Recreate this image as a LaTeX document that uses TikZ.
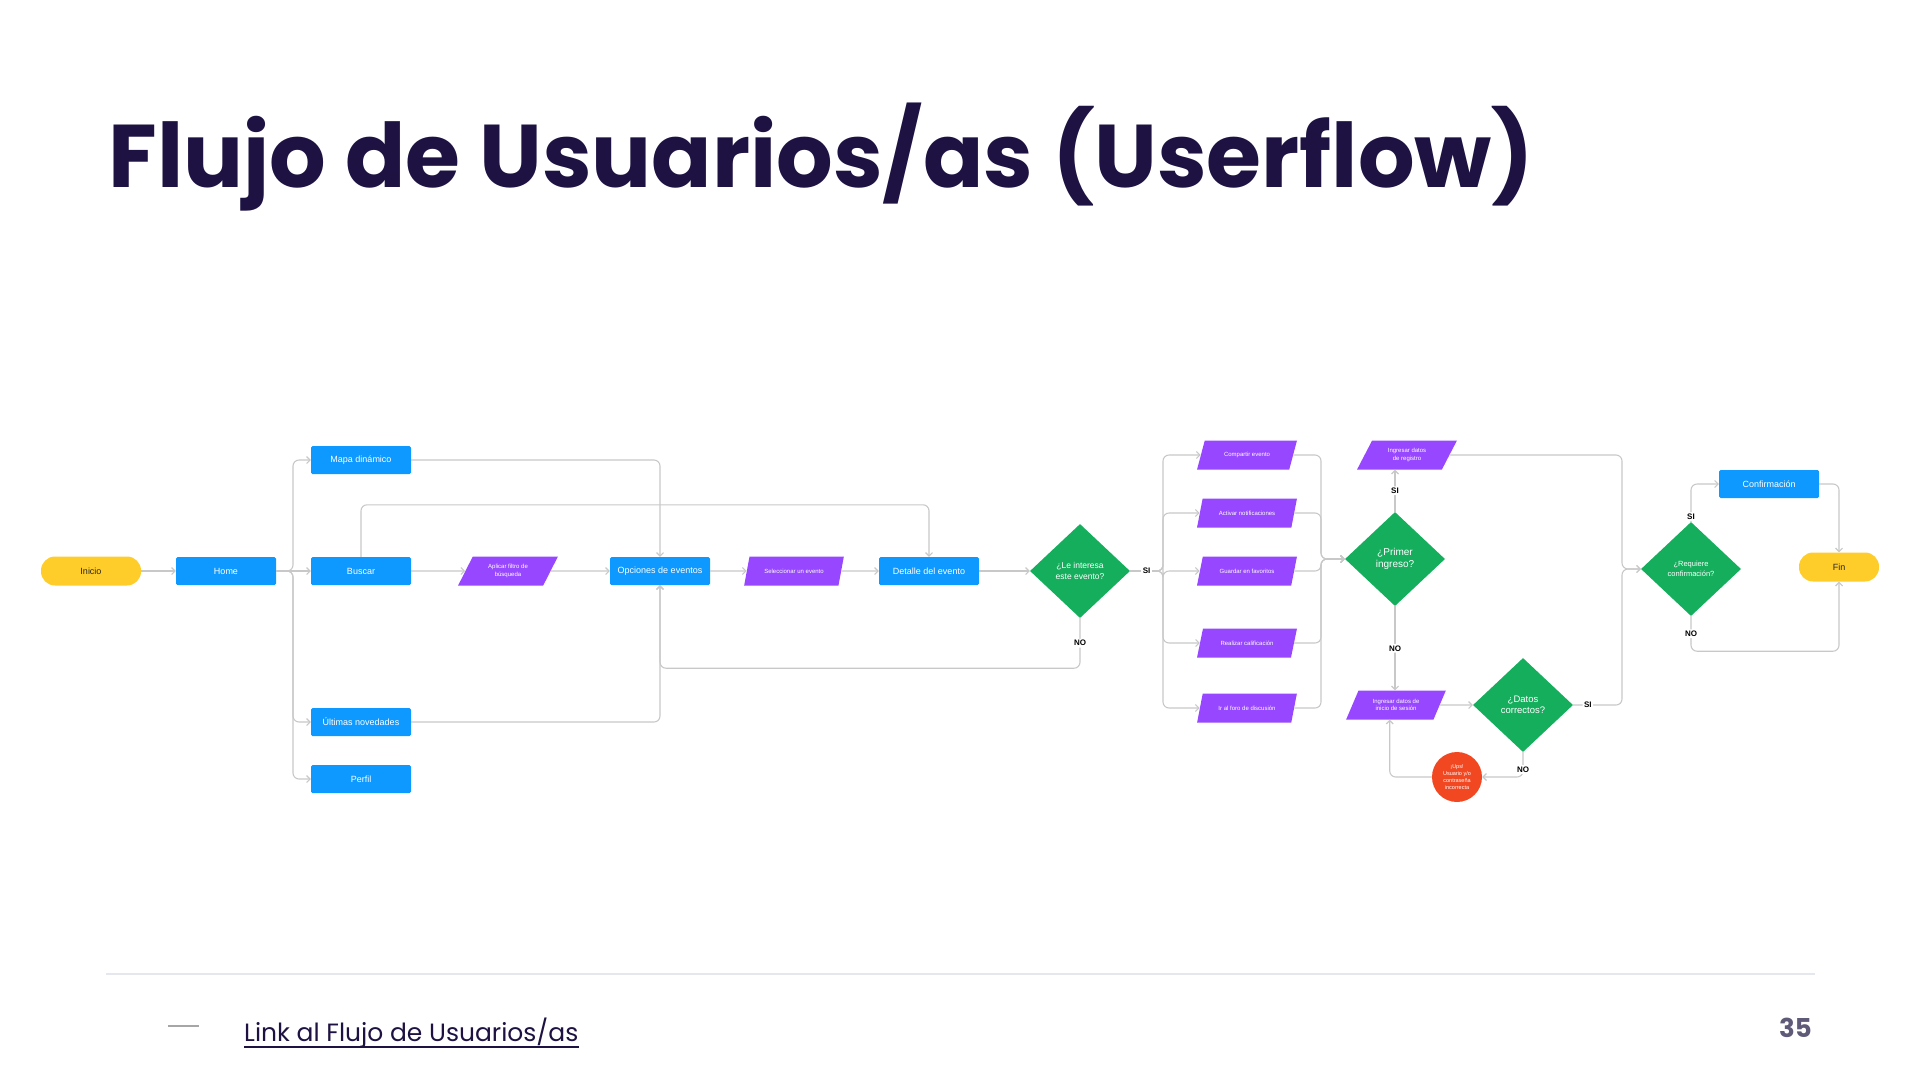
\documentclass[tikz,border=0pt]{standalone}
\usepackage{fontspec}
\setmainfont{Poppins}
\newfontfamily\nodefont{Liberation Sans}
\usepackage{tikz}
\usetikzlibrary{arrows.meta,shapes.geometric}
\definecolor{figblue}{HTML}{0D99FF}
\definecolor{figyellow}{HTML}{FFCD29}
\definecolor{figpurple}{HTML}{9747FF}
\definecolor{figgreen}{HTML}{14AE5C}
\definecolor{figred}{HTML}{F24822}
\definecolor{linegray}{HTML}{C8C8C8}
\definecolor{titlenavy}{HTML}{1E1242}
\definecolor{pagegray}{HTML}{5E5A78}
\definecolor{rulegray}{HTML}{E6E6EE}

\begin{document}
\begin{tikzpicture}[x=1pt, y=-1pt,
      base/.style={font=\nodefont\fontsize{9}{10.5}\selectfont, text=white,
        align=center, inner sep=1pt},
      screen/.style={base, fill=figblue, rounded corners=1.5pt,
        minimum width=100pt, minimum height=28pt},
      terminal/.style={base, fill=figyellow, text=black!85, rounded corners=14pt,
        minimum width=100pt, minimum height=29pt},
      action/.style={base, trapezium, trapezium left angle=60,
        trapezium right angle=120, trapezium stretches=true, fill=figpurple,
        minimum width=100pt, minimum height=29pt,
        font=\nodefont\fontsize{6}{7.5}\selectfont},
      decision/.style={base, diamond, fill=figgreen, minimum width=100pt,
        minimum height=94pt, inner sep=0pt},
      alert/.style={base, circle, fill=figred, minimum size=50pt, inner sep=0pt,
        font=\nodefont\fontsize{5.5}{7}\selectfont},
      arr/.style={-{Straight Barb[length=3.5pt, width=7pt]}, line width=1.1pt,
        draw=linegray, rounded corners=6pt},
      lbl/.style={font=\nodefont\bfseries\fontsize{8}{9}\selectfont, fill=white,
        inner sep=1.5pt, text=black}
    ]
    \useasboundingbox (0,0) rectangle (1920,1080);

    \node[anchor=base west, text=titlenavy, font=\bfseries\fontsize{89}{98}\selectfont]
      (title) at (105,187) {Flujo de Usuarios/as (Userflow)};

    \node[terminal] (inicio) at (91,571) {Inicio};
    \node[screen] (home) at (226,571) {Home};
    \node[screen] (mapa) at (361,460) {Mapa dinámico};
    \node[screen] (buscar) at (361,571) {Buscar};
    \node[screen] (ultimas) at (361,722) {Últimas novedades};
    \node[screen] (perfil) at (361,779) {Perfil};
    \node[action] (filtro) at (508,571) {Aplicar filtro de\\búsqueda};
    \node[screen] (opciones) at (660,571) {Opciones de eventos};
    \node[action] (selec) at (794,571) {Seleccionar un evento};
    \node[screen] (detalle) at (929,571) {Detalle del evento};
    \node[decision, font=\nodefont\fontsize{8.5}{10.5}\selectfont] (interes) at (1080,571)
      {¿Le interesa\\este evento?};

    \node[action] (compartir) at (1247,455) {Compartir evento};
    \node[action] (activar) at (1247,513) {Activar notificaciones};
    \node[action] (guardar) at (1247,571) {Guardar en favoritos};
    \node[action] (calificar) at (1247,643) {Realizar calificación};
    \node[action] (foro) at (1247,708) {Ir al foro de discusión};

    \node[decision, font=\nodefont\fontsize{10}{12}\selectfont] (primer) at (1395,559)
      {¿Primer\\ingreso?};
    \node[action] (registro) at (1407,455) {Ingresar datos\\de registro};
    \node[action] (sesion) at (1396,705) {Ingresar datos de\\inicio de sesión};
    \node[decision, font=\nodefont\fontsize{9.5}{11.5}\selectfont] (datos) at (1523,705)
      {¿Datos\\correctos?};
    \node[alert] (error) at (1457,777) {¡Ups!\\Usuario y/o\\contraseña\\incorrecta};
    \node[decision, font=\nodefont\fontsize{7.5}{9.5}\selectfont] (requiere) at (1691,569)
      {¿Requiere\\confirmación?};
    \node[screen] (confirm) at (1769,484) {Confirmación};
    \node[terminal, minimum width=80pt] (fin) at (1839,567) {Fin};

    \coordinate (splitH) at (293,571);
    \coordinate (splitA) at (1163,571);
    \coordinate (joinA) at (1321,559);
    \coordinate (joinB) at (1622,569);

    \draw[arr] (inicio) -- (home);
    \draw[arr] (home) -- (buscar);
    \draw[arr] (home.east) -- (splitH) |- (mapa.west);
    \draw[arr] (home.east) -- (splitH) |- (ultimas.west);
    \draw[arr] (home.east) -- (splitH) |- (perfil.west);
    \draw[arr] (buscar) -- (filtro);
    \draw[arr] (filtro) -- (opciones);
    \draw[arr] (buscar.north) -- ++(0,-52) -| (detalle.north);
    \draw[arr] (mapa.east) -| (opciones.north);
    \draw[arr] (ultimas.east) -| (opciones.south);
    \draw[arr] (opciones) -- (selec);
    \draw[arr] (selec) -- (detalle);
    \draw[arr] (detalle) -- (interes);
    \draw[arr] (interes.south) -- node[lbl] {NO} ++(0,50) -| (opciones.south);

    \foreach \n in {compartir,activar,guardar,calificar,foro} {
      \draw[arr] (interes.east) -- (splitA) |- (\n.west);
      \draw[arr] (\n.east) -| (joinA) -- (primer.west);
    }
    \path (interes.east) -- node[lbl] {SI} (splitA);

    \draw[arr] (primer.north) -- node[lbl] {SI} (primer.north |- registro.south);
    \draw[arr] (primer.south) -- node[lbl] {NO} (primer.south |- sesion.north);
    \draw[arr] (sesion) -- (datos);
    \draw[arr] (datos.south) |- node[lbl, pos=0.35] {NO} (error.east);
    \draw[arr] (error.west) -| (sesion.bottom side);
    \draw[arr] (datos.east) -| node[lbl, pos=0.15] {SI} (joinB) -- (requiere.west);
    \draw[arr] (registro.east) -| (joinB) -- (requiere.west);
    \draw[arr] (requiere.north) |- node[lbl, pos=0.07] {SI} (confirm.west);
    \draw[arr] (confirm.east) -| (fin.north);
    \draw[arr] (requiere.south) -- node[lbl] {NO} ++(0,35) -| (fin.south);

    \draw[rulegray, line width=1.5pt] (106,974) -- (1815,974);
    \draw[black!35, line width=1.5pt] (168,1026) -- (199,1026);
    \node[anchor=base west, inner sep=0pt, text=titlenavy, font=\fontsize{25}{30}\selectfont]
      (link) at (244,1041) {Link al Flujo de Usuarios/as};
    \draw[titlenavy, line width=1.3pt] ([yshift=-6pt]link.base west) -- ([yshift=-6pt]link.base east);
    \node[anchor=base east, inner sep=0pt, text=pagegray, font=\bfseries\fontsize{26}{30}\selectfont]
      (page) at (1812,1037) {35};
  \end{tikzpicture}
\end{document}
